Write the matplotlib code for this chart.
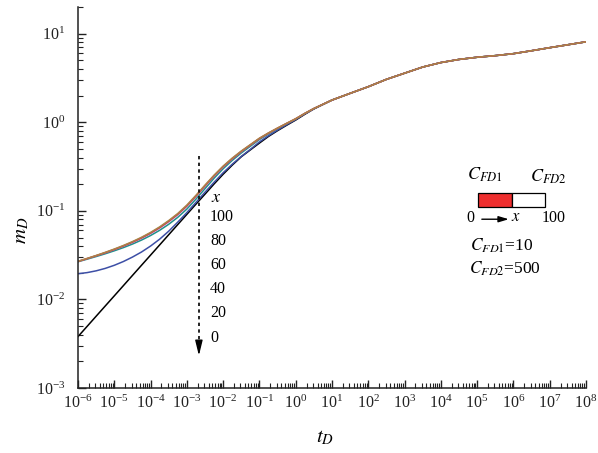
import numpy as np
import matplotlib
matplotlib.use("Agg")
import matplotlib.pyplot as plt
from matplotlib.ticker import LogLocator, NullFormatter
from matplotlib.patches import Rectangle

plt.rcParams['font.family'] = 'serif'
plt.rcParams['font.serif'] = ['Liberation Serif', 'DejaVu Serif']
plt.rcParams['mathtext.fontset'] = 'stix'

# early time, quarter-decade steps 1e-6 .. 10^0.5 (curves differ with x)
t_early = [1.0e-6, 1.78e-6, 3.16e-6, 5.62e-6, 1.0e-5, 1.78e-5, 3.16e-5, 5.62e-5,
           1.0e-4, 1.78e-4, 3.16e-4, 5.62e-4, 1.0e-3, 1.78e-3, 3.16e-3, 5.62e-3,
           1.0e-2, 1.78e-2, 3.16e-2, 5.62e-2, 1.0e-1, 1.78e-1, 3.16e-1, 5.62e-1,
           1.0, 1.78, 3.16]
# late time, half-decade steps 1e1 .. 1e8 (all curves coincide)
t_late = [1e1, 3.16e1, 1e2, 3.16e2, 1e3, 3.16e3, 1e4, 3.16e4, 1e5, 3.16e5,
          1e6, 3.16e6, 1e7, 3.16e7, 1e8]

m_x0 = [0.003802, 0.004955, 0.006457, 0.008414, 0.01096, 0.01429, 0.01862, 0.02427,
        0.03162, 0.04121, 0.05370, 0.06998, 0.09120, 0.1189, 0.1542, 0.2009,
        0.2588, 0.3278, 0.4077, 0.4875, 0.5821, 0.6918, 0.8035, 0.9247,
        1.059, 1.230, 1.413]
m_x20 = [0.01950, 0.02007, 0.02102, 0.02239, 0.02427, 0.02677, 0.03004, 0.03428,
         0.04004, 0.04786, 0.05888, 0.07456, 0.09550, 0.1245, 0.1622, 0.2099,
         0.2692, 0.3357, 0.4111, 0.4943, 0.5998, 0.7047, 0.8166, 0.9376,
         1.072, 1.242, 1.419]
m_x40 = [0.02661, 0.02845, 0.03047, 0.03274, 0.03537, 0.03843, 0.04213, 0.04675,
         0.05263, 0.06029, 0.07046, 0.08444, 0.1047, 0.1356, 0.1778, 0.2330,
         0.2985, 0.3707, 0.4498, 0.5358, 0.6382, 0.7388, 0.8452, 0.9594,
         1.086, 1.253, 1.426]
m_x60 = [0.02680, 0.02881, 0.03104, 0.03354, 0.03645, 0.03988, 0.04396, 0.04900,
         0.05549, 0.06394, 0.07525, 0.09037, 0.1124, 0.1452, 0.1897, 0.2463,
         0.3126, 0.3855, 0.4651, 0.5514, 0.6532, 0.7516, 0.8551, 0.9682,
         1.094, 1.257, 1.428]
m_x80 = [0.02686, 0.02891, 0.03119, 0.03376, 0.03674, 0.04025, 0.04444, 0.04963,
         0.05627, 0.06490, 0.07642, 0.09184, 0.1142, 0.1474, 0.1923, 0.2494,
         0.3163, 0.3895, 0.4691, 0.5552, 0.6569, 0.7551, 0.8581, 0.9705,
         1.095, 1.258, 1.429]
m_x100 = [0.02692, 0.02901, 0.03133, 0.03397, 0.03704, 0.04062, 0.04493, 0.05026,
          0.05705, 0.06588, 0.07762, 0.09333, 0.1161, 0.1496, 0.1950, 0.2526,
          0.3199, 0.3936, 0.4732, 0.5591, 0.6607, 0.7586, 0.8610, 0.9727,
          1.0965, 1.259, 1.429]
m_late = [1.78, 2.12, 2.52, 3.05, 3.58, 4.20, 4.72, 5.12, 5.42, 5.65, 5.95, 6.42,
          6.95, 7.50, 8.10]

curves = [m_x0, m_x20, m_x40, m_x60, m_x80, m_x100]
colors = ['#000000', '#3d4fa6', '#20908a', '#b060b8', '#d83a3a', '#a88448']
x_labels = ['100', '80', '60', '40', '20', '0']

arrow_t = 2.15e-3
arrow_top, arrow_tip = 0.417, 0.00232

fig = plt.figure(figsize=(5.98, 4.53), dpi=100)
ax = fig.add_axes([0.1304, 0.1435, 0.8495, 0.841])

for m, c in zip(curves, colors):
    ax.plot(t_early + t_late, m + m_late, color=c, lw=1.1)

ax.set_xscale('log')
ax.set_yscale('log')
ax.set_xlim(1e-6, 1e8)
ax.set_ylim(1e-3, 20)

ax.xaxis.set_major_locator(LogLocator(base=10, numticks=30))
ax.xaxis.set_minor_locator(LogLocator(base=10, subs=np.arange(2, 10), numticks=30))
ax.yaxis.set_major_locator(LogLocator(base=10, numticks=30))
ax.yaxis.set_minor_locator(LogLocator(base=10, subs=np.arange(2, 10), numticks=30))
ax.xaxis.set_minor_formatter(NullFormatter())
ax.yaxis.set_minor_formatter(NullFormatter())

for s in ['top', 'right']:
    ax.spines[s].set_visible(False)
for s in ['left', 'bottom']:
    ax.spines[s].set_linewidth(1.1)
    ax.spines[s].set_color('#222222')

ax.tick_params(which='major', direction='in', length=6, width=1.0, labelsize=11.5,
               colors='#222222')
ax.tick_params(which='minor', direction='in', length=3.5, width=0.8, colors='#222222')
ax.tick_params(axis='x', which='major', pad=5)
ax.tick_params(axis='y', which='major', pad=9)

ax.set_xlabel(r'$t_D$', fontsize=15)
ax.set_ylabel(r'$m_D$', fontsize=15)
ax.xaxis.set_label_coords(0.486, -0.105)
ax.yaxis.set_label_coords(-0.092, 0.415)

# dotted arrow across the curves
ax.plot([arrow_t, arrow_t], [arrow_top, arrow_tip * 1.35], ls=(0, (2, 2)), color='k', lw=1.2)
ax.annotate('', xy=(arrow_t, arrow_tip), xytext=(arrow_t, arrow_tip * 1.4),
            arrowprops=dict(arrowstyle='-|>,head_length=0.9,head_width=0.22',
                            color='k', lw=1.0, shrinkA=0, shrinkB=0))

ax.text(0.262, 0.500, r'$x$', transform=ax.transAxes, fontsize=13, ha='left', va='center')
for i, lab in enumerate(x_labels):
    ax.text(0.260, 0.450 - i * 0.0635, lab, transform=ax.transAxes, fontsize=11.5,
            ha='left', va='center')

# fracture sketch on the right
ax.text(0.801, 0.559, r'$C_{FD1}$', transform=ax.transAxes, fontsize=13, ha='center', va='center')
ax.text(0.926, 0.554, r'$C_{FD2}$', transform=ax.transAxes, fontsize=13, ha='center', va='center')
ax.add_patch(Rectangle((0.787, 0.475), 0.067, 0.037, transform=ax.transAxes,
                       facecolor='#ee2e2e', edgecolor='k', lw=0.9))
ax.add_patch(Rectangle((0.854, 0.475), 0.065, 0.037, transform=ax.transAxes,
                       facecolor='white', edgecolor='k', lw=0.9))
ax.text(0.772, 0.445, '0', transform=ax.transAxes, fontsize=11.5, ha='center', va='center')
ax.annotate('', xy=(0.848, 0.443), xytext=(0.795, 0.443), xycoords='axes fraction',
            arrowprops=dict(arrowstyle='-|>,head_length=0.6,head_width=0.18',
                            color='k', lw=1.0, shrinkA=0, shrinkB=0))
ax.text(0.862, 0.449, r'$x$', transform=ax.transAxes, fontsize=12, ha='center', va='center')
ax.text(0.936, 0.445, '100', transform=ax.transAxes, fontsize=11.5, ha='center', va='center')
ax.text(0.834, 0.372, r'$C_{FD1}$=10', transform=ax.transAxes, fontsize=12.5, ha='center', va='center')
ax.text(0.840, 0.312, r'$C_{FD2}$=500', transform=ax.transAxes, fontsize=12.5, ha='center', va='center')

fig.savefig('out.png', dpi=100)
